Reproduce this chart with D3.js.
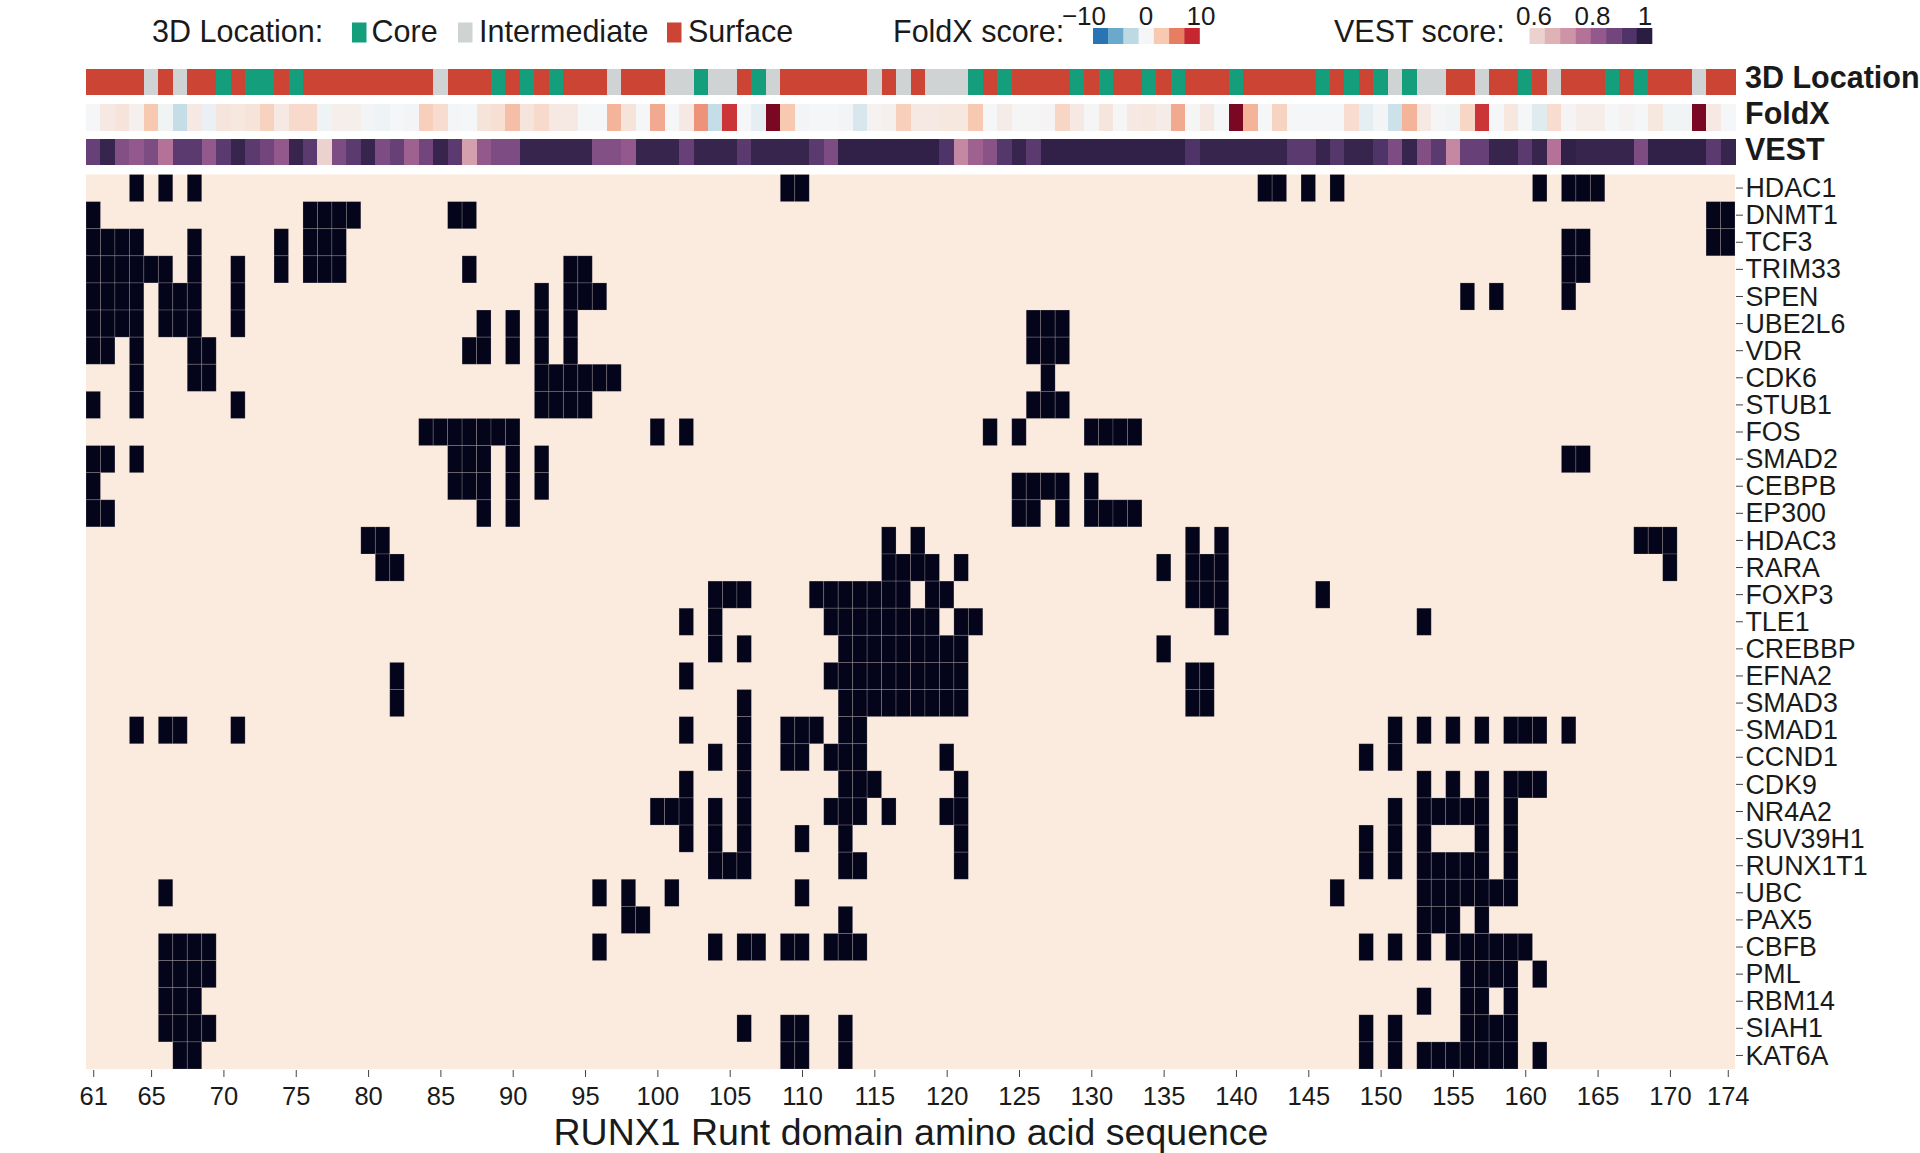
<!DOCTYPE html>
<html>
<head>
<meta charset="utf-8">
<script src="https://cdn.jsdelivr.net/npm/d3@7"></script>
<style>
  html, body { margin: 0; padding: 0; background: #fff; }
  svg { display: block; }
  text { font-family: "Liberation Sans", Arial, sans-serif; fill: #1a1a1a; }
</style>
</head>
<body>
<svg id="viz"></svg>
<script>
// ---------------------------
// Data
// ---------------------------

const residues = d3.range(61, 175);

const genes = ["HDAC1","DNMT1","TCF3","TRIM33","SPEN","UBE2L6","VDR","CDK6","STUB1","FOS","SMAD2","CEBPB","EP300",
  "HDAC3","RARA","FOXP3","TLE1","CREBBP","EFNA2","SMAD3","SMAD1","CCND1","CDK9","NR4A2","SUV39H1","RUNX1T1",
  "UBC","PAX5","CBFB","PML","RBM14","SIAH1","KAT6A"];

// residues with an interaction, one list per gene (same order as genes)
const hits = [
  [64,66,68,109,110,142,143,145,147,161,163,164,165],
  [61,76,77,78,79,86,87,173,174],
  [61,62,63,64,68,74,76,77,78,163,164,173,174],
  [61,62,63,64,65,66,68,71,74,76,77,78,87,94,95,163,164],
  [61,62,63,64,66,67,68,71,92,94,95,96,156,158,163],
  [61,62,63,64,66,67,68,71,88,90,92,94,126,127,128],
  [61,62,64,68,69,87,88,90,92,94,126,127,128],
  [64,68,69,92,93,94,95,96,97,127],
  [61,64,71,92,93,94,95,126,127,128],
  [84,85,86,87,88,89,90,100,102,123,125,130,131,132,133],
  [61,62,64,86,87,88,90,92,163,164],
  [61,86,87,88,90,92,125,126,127,128,130],
  [61,62,88,90,125,126,128,130,131,132,133],
  [80,81,116,118,137,139,168,169,170],
  [81,82,116,117,118,119,121,135,137,138,139,170],
  [104,105,106,111,112,113,114,115,116,117,119,120,137,138,139,146],
  [102,104,112,113,114,115,116,117,118,119,121,122,139,153],
  [104,106,113,114,115,116,117,118,119,120,121,135],
  [82,102,112,113,114,115,116,117,118,119,120,121,137,138],
  [82,106,113,114,115,116,117,118,119,120,121,137,138],
  [64,66,67,71,102,106,109,110,111,113,114,151,153,155,157,159,160,161,163],
  [104,106,109,110,112,113,114,120,149,151],
  [102,106,113,114,115,121,153,155,157,159,160,161],
  [100,101,102,104,106,112,113,114,116,120,121,151,153,154,155,156,157,159],
  [102,104,106,110,113,121,149,151,153,157,159],
  [104,105,106,113,114,121,149,151,153,154,155,156,157,159],
  [66,96,98,101,110,147,153,154,155,156,157,158,159],
  [98,99,113,153,154,155,157],
  [66,67,68,69,96,104,106,107,109,110,112,113,114,149,151,153,155,156,157,158,159,160],
  [66,67,68,69,156,157,158,159,161],
  [66,67,68,153,156,157,159],
  [66,67,68,69,106,109,110,113,149,151,156,157,158,159],
  [67,68,109,110,113,149,151,153,154,155,156,157,158,159,161]
];

// 3D location per residue: S surface, C core, I intermediate
const location3D = ("SSSSISISSCSCCSCSSSSSSSSSISSSCSCSCSSSISSSIICIISCISSSSSSISISIII"
  + "CSCSSSSCSCSSCSCSSSCSSSSSCSCSCICIISSISSCSISSSCSCSSSIS" + "S").split("");

const foldx = [0,1,1.5,0.5,3.5,-0.3,-3,1,-0.7,1.3,1.2,1.5,2.8,1,2.2,2.2,-0.4,0.6,0.6,-0.2,
  -0.4,0,-0.2,3,2,-0.1,0,1.5,1.8,4,1.3,2.2,1,1,0,0,4.5,1.5,0,5,
  0,1,6,-3,9.5,0,-1,12,3.5,-0.2,0,0,-0.2,-1.8,0.3,0.5,3,1,1,1.2,
  1.2,3.5,0,0.8,0.1,0.1,0.2,2.5,1,0.1,1.3,0.1,1,1.2,0.8,5,0.1,1,0,12,
  4.5,0,2.7,0,0,0,0,2,-1,-0.2,-2.5,4.5,1,0.1,-0.3,2.5,9.5,0,1.2,0,
  -1.3,2,0.2,0.7,0.7,0,0.3,0,1.2,-0.3,-0.3,12,1,0];

const vest = [0.9,0.98,0.85,0.82,0.86,0.76,0.92,0.92,0.82,0.92,0.98,0.92,0.88,0.82,0.98,0.92,0.6,0.86,0.92,0.98,
  0.86,0.9,0.8,0.88,0.98,0.92,0.68,0.82,0.86,0.86,0.98,0.98,0.98,0.98,0.98,0.85,0.85,0.82,0.98,0.98,
  0.98,0.9,0.98,0.98,0.98,0.92,0.98,0.98,0.98,0.98,0.92,0.86,0.99,0.99,0.99,0.99,0.99,0.99,0.99,0.94,
  0.72,0.8,0.84,0.93,0.98,0.92,0.99,0.99,0.99,0.99,0.99,0.99,0.99,0.99,0.99,0.99,0.94,0.98,0.98,0.98,
  0.98,0.98,0.98,0.92,0.92,0.98,0.93,0.98,0.98,0.94,0.86,0.98,0.85,0.92,0.72,0.9,0.9,0.98,0.98,0.92,
  0.98,0.76,0.99,0.98,0.98,0.98,0.98,0.86,0.99,0.99,0.99,0.99,0.92,0.98];

const xTicks = [61,65,70,75,80,85,90,95,100,105,110,115,120,125,130,135,140,145,150,155,160,165,170,174];

const locationKeys = ["C","I","S"];
const locationNames = ["Core","Intermediate","Surface"];
const locationColors = ["#149e7c","#d0d3d4","#cc4433"];

const foldxLegend = [-10,-7,-3.5,0,3.5,7,10];
const foldxLegendTicks = [-10,0,10];
const vestLegend = [0.6,0.65,0.7,0.76,0.82,0.88,0.94,1];
const vestLegendTicks = [0.6,0.8,1];

// ---------------------------
// Create SVG
// ---------------------------

const width = 1920;
const height = 1153;

const svg = d3.select("#viz")
    .attr("width", width)
    .attr("height", height)
    .attr("viewBox", `0 0 ${width} ${height}`);

const plotLeft = 86;
const plotRight = 1735;
const plotTop = 174.5;
const plotBottom = 1069;

const x = d3.scaleBand().domain(residues).range([plotLeft, plotRight]);
const y = d3.scaleBand().domain(genes).range([plotTop, plotBottom]);

const foldxColor = d3.scaleLinear()
    .domain([-12.5,-10,-7,-3.5,0,3.5,7,10,12.5])
    .range(["#1a5a9c","#2b74b3","#6aa8cc","#bcd9e4","#f5f6f7","#f8c9b1","#e77e62","#c5262f","#67001f"]);
const vestColor = d3.scaleLinear()
    .domain([0.6,0.65,0.7,0.76,0.82,0.88,0.94,1])
    .range(["#ecd2cf","#dfb3b6","#cd93a7","#b47299","#94598c","#72467d","#4e3468","#2b1d41"])
    .clamp(true);
const locationColor = d3.scaleOrdinal().domain(locationKeys).range(locationColors);
const heatColor = d3.scaleOrdinal().domain([0, 1]).range(["#fbebde", "#04051b"]);

// ---------------------------
// Heatmap
// ---------------------------

const cells = genes.flatMap((gene, g) =>
    residues.map(r => ({ gene, residue: r, value: hits[g].includes(r) ? 1 : 0 })));

svg.append("rect")
    .attr("x", plotLeft)
    .attr("y", plotTop)
    .attr("width", plotRight - plotLeft)
    .attr("height", plotBottom - plotTop)
    .attr("fill", heatColor(0));

svg.append("g")
    .selectAll("rect")
    .data(cells.filter(d => d.value === 1))
    .join("rect")
    .attr("x", d => x(d.residue))
    .attr("y", d => y(d.gene))
    .attr("width", x.bandwidth())
    .attr("height", y.bandwidth())
    .attr("fill", heatColor(1))
    .attr("stroke", "#fbebde")
    .attr("stroke-opacity", 0.22)
    .attr("stroke-width", 0.8);

// ---------------------------
// Annotation strips
// ---------------------------

const strips = [
    { name: "3D Location", top: 68.5, bottom: 95, labelY: 77, color: i => locationColor(location3D[i]) },
    { name: "FoldX", top: 104, bottom: 130.5, labelY: 113, color: i => foldxColor(foldx[i]) },
    { name: "VEST", top: 138.5, bottom: 165, labelY: 148.5, color: i => vestColor(vest[i]) }
];

strips.forEach(s => {
    svg.append("g")
        .attr("shape-rendering", "crispEdges")
        .selectAll("rect")
        .data(residues)
        .join("rect")
        .attr("x", d => x(d))
        .attr("y", s.top)
        .attr("width", x.bandwidth() + 0.5)
        .attr("height", s.bottom - s.top)
        .attr("fill", (d, i) => s.color(i));

    svg.append("text")
        .attr("x", 1745)
        .attr("y", s.labelY + 11)
        .attr("font-size", 30.5)
        .attr("font-weight", "bold")
        .text(s.name);
});

// ---------------------------
// Axes
// ---------------------------

const xAxis = d3.axisBottom(d3.scalePoint().domain(residues).range([x(61) + x.bandwidth() / 2, x(174) + x.bandwidth() / 2]))
    .tickValues(xTicks)
    .tickSize(7)
    .tickSizeOuter(0)
    .tickPadding(10);

const xG = svg.append("g")
    .attr("transform", `translate(0,${plotBottom + 1})`)
    .call(xAxis);
xG.select(".domain").remove();
xG.selectAll("line").attr("stroke", "#444").attr("stroke-width", 1);
xG.selectAll("text").attr("font-size", 25.5).attr("font-family", "Liberation Sans");

const yAxis = d3.axisRight(y).tickSize(7).tickSizeOuter(0).tickPadding(2.5);

const yG = svg.append("g")
    .attr("transform", `translate(${plotRight + 1},0)`)
    .call(yAxis);
yG.select(".domain").remove();
yG.selectAll("line").attr("stroke", "#444").attr("stroke-width", 1);
yG.selectAll("text")
    .attr("font-size", 26.8)
    .attr("font-family", "Liberation Sans")
    .attr("fill", "#1a1a1a")
    .attr("dy", "0.34em");

svg.append("text")
    .attr("x", 911)
    .attr("y", 1144.5)
    .attr("text-anchor", "middle")
    .attr("font-size", 37.5)
    .text("RUNX1 Runt domain amino acid sequence");

// ---------------------------
// Legends
// ---------------------------

const legendFont = 30.5;

svg.append("text").attr("x", 152).attr("y", 42).attr("font-size", legendFont).text("3D Location:");

const locationSwatchX = d3.scaleOrdinal().domain(locationKeys).range([352, 458, 667]);

const locLegend = svg.append("g")
    .selectAll("g")
    .data(locationKeys)
    .join("g")
    .attr("transform", d => `translate(${locationSwatchX(d)},0)`);

locLegend.append("rect")
    .attr("y", 22.5)
    .attr("width", 14.5)
    .attr("height", 20)
    .attr("fill", d => locationColor(d));

locLegend.append("text")
    .attr("x", (d, i) => i === 0 ? 19.5 : 21)
    .attr("y", 42)
    .attr("font-size", legendFont)
    .text((d, i) => locationNames[i]);

svg.append("text").attr("x", 893).attr("y", 42).attr("font-size", legendFont).text("FoldX score:");

const foldxLegendX = d3.scaleBand().domain(foldxLegend).range([1093, 1199.5]);
svg.append("g")
    .selectAll("rect")
    .data(foldxLegend)
    .join("rect")
    .attr("x", d => foldxLegendX(d))
    .attr("y", 28)
    .attr("width", foldxLegendX.bandwidth() + 0.3)
    .attr("height", 16)
    .attr("fill", d => foldxColor(d));

const foldxTickX = d3.scaleLinear().domain([-10, 0, 10]).range([1084, 1146, 1201]);
svg.append("g")
    .selectAll("text")
    .data(foldxLegendTicks)
    .join("text")
    .attr("x", d => foldxTickX(d))
    .attr("y", 24.5)
    .attr("text-anchor", "middle")
    .attr("font-size", 26)
    .text(d => d < 0 ? "\u2212" + Math.abs(d) : d);

svg.append("text").attr("x", 1334).attr("y", 42).attr("font-size", legendFont).text("VEST score:");

const vestLegendX = d3.scaleBand().domain(vestLegend).range([1529.5, 1652]);
svg.append("g")
    .selectAll("rect")
    .data(vestLegend)
    .join("rect")
    .attr("x", d => vestLegendX(d))
    .attr("y", 28)
    .attr("width", vestLegendX.bandwidth() + 0.3)
    .attr("height", 16)
    .attr("fill", d => vestColor(d));

const vestTickX = d3.scaleLinear().domain([0.6, 0.8, 1]).range([1534, 1592.5, 1645]);
svg.append("g")
    .selectAll("text")
    .data(vestLegendTicks)
    .join("text")
    .attr("x", d => vestTickX(d))
    .attr("y", 24.5)
    .attr("text-anchor", "middle")
    .attr("font-size", 26)
    .text(d => d);
</script>
</body>
</html>
